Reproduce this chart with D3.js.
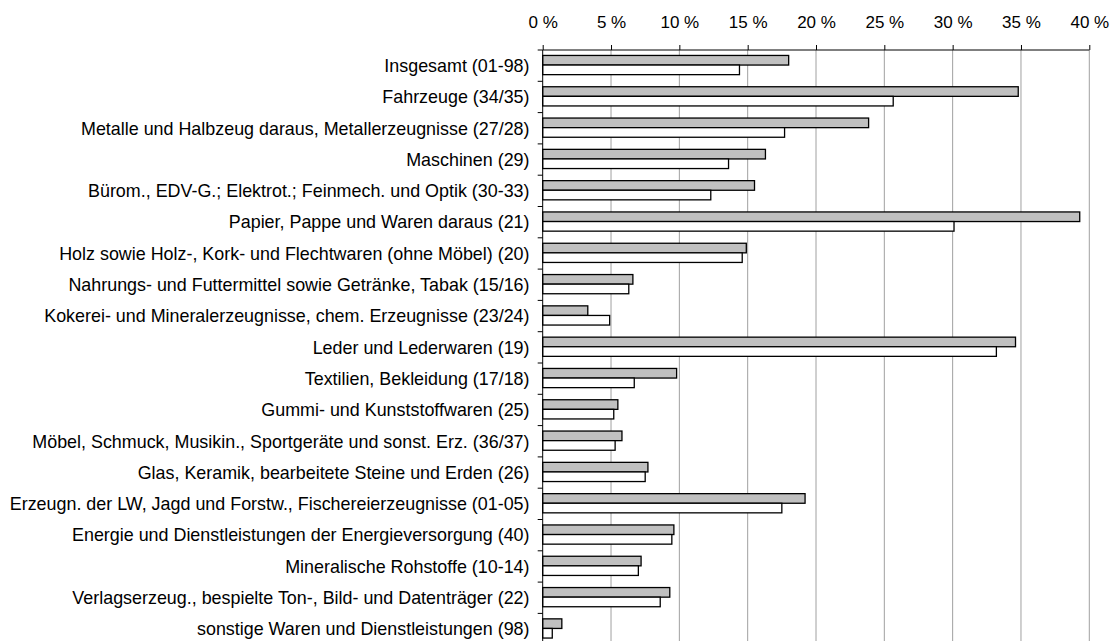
<!DOCTYPE html>
<html><head><meta charset="utf-8">
<script src="https://cdn.jsdelivr.net/npm/d3@7"></script>
<style>body{margin:0;background:#fff}svg{display:block}text{font-family:"Liberation Sans",Arial,sans-serif}</style>
</head><body>
<svg id="c" width="1111" height="641"></svg>
<script>
const categories = [
 "Insgesamt (01-98)",
 "Fahrzeuge (34/35)",
 "Metalle und Halbzeug daraus, Metallerzeugnisse (27/28)",
 "Maschinen (29)",
 "Bürom., EDV-G.; Elektrot.; Feinmech. und Optik (30-33)",
 "Papier, Pappe und Waren daraus (21)",
 "Holz sowie Holz-, Kork- und Flechtwaren (ohne Möbel) (20)",
 "Nahrungs- und Futtermittel sowie Getränke, Tabak (15/16)",
 "Kokerei- und Mineralerzeugnisse, chem. Erzeugnisse (23/24)",
 "Leder und Lederwaren (19)",
 "Textilien, Bekleidung (17/18)",
 "Gummi- und Kunststoffwaren (25)",
 "Möbel, Schmuck, Musikin., Sportgeräte und sonst. Erz. (36/37)",
 "Glas, Keramik, bearbeitete Steine und Erden (26)",
 "Erzeugn. der LW, Jagd und Forstw., Fischereierzeugnisse (01-05)",
 "Energie und Dienstleistungen der Energieversorgung (40)",
 "Mineralische Rohstoffe (10-14)",
 "Verlagserzeug., bespielte Ton-, Bild- und Datenträger (22)",
 "sonstige Waren und Dienstleistungen (98)"
];
const seriesGray  = [18.0, 34.8, 23.85, 16.3, 15.5, 39.3, 14.9, 6.6, 3.3, 34.6, 9.8, 5.5, 5.8, 7.7, 19.2, 9.6, 7.2, 9.3, 1.4];
const seriesWhite = [14.4, 25.65, 17.7, 13.6, 12.3, 30.1, 14.6, 6.3, 4.9, 33.2, 6.7, 5.2, 5.3, 7.5, 17.5, 9.45, 7.0, 8.6, 0.7];
const tickValues = [0, 5, 10, 15, 20, 25, 30, 35, 40];

const svg = d3.select("#c");
const x0 = 542.7, x1 = 1089.3, yTop = 50, band = 31.3;
const x = d3.scaleLinear().domain([0, 40]).range([x0, x1]);
const y = d3.scaleBand().domain(categories).range([yTop, yTop + band * categories.length]).paddingInner(0).paddingOuter(0);
const barH = 9.6;

// gridlines
svg.append("g").selectAll("line").data(tickValues.slice(1)).join("line")
  .attr("x1", d => x(d)).attr("x2", d => x(d))
  .attr("y1", yTop).attr("y2", 641)
  .attr("stroke", "#a0a0a0").attr("stroke-width", 1);

// bars
const g = svg.append("g");
categories.forEach((c, i) => {
  const cy = y(c) + y.bandwidth() / 2 - 0.6;
  g.append("rect").attr("x", x(0)).attr("y", cy - barH)
    .attr("width", x(seriesGray[i]) - x(0)).attr("height", barH)
    .attr("fill", "#c0c0c0").attr("stroke", "#000").attr("stroke-width", 1.3);
  g.append("rect").attr("x", x(0)).attr("y", cy)
    .attr("width", x(seriesWhite[i]) - x(0)).attr("height", barH)
    .attr("fill", "#fff").attr("stroke", "#000").attr("stroke-width", 1.3);
});

// top axis
const ax = svg.append("g").attr("transform", `translate(0,${yTop})`)
  .call(d3.axisTop(x).tickValues(tickValues).tickSize(5).tickPadding(16.7).tickFormat(d => d + " %"));
ax.select(".domain").attr("stroke", "#000").attr("d", `M${x0},0H${x1}`);
ax.selectAll(".tick line").attr("stroke", "#000");
ax.selectAll("text").attr("font-size", 17).attr("fill", "#000").style("font-family", "Liberation Sans, Arial, sans-serif");

// left axis
const ticksY = d3.range(categories.length + 1).map(i => yTop + i * band);
svg.append("line").attr("x1", x0).attr("x2", x0).attr("y1", yTop).attr("y2", 641).attr("stroke", "#000");
svg.append("g").selectAll("line").data(ticksY).join("line")
  .attr("x1", x0 - 5).attr("x2", x0).attr("y1", d => d).attr("y2", d => d).attr("stroke", "#000");
svg.append("g").selectAll("text").data(categories).join("text")
  .attr("x", 529.5).attr("y", d => y(d) + y.bandwidth() / 2)
  .attr("dy", "0.35em").attr("text-anchor", "end")
  .attr("font-size", 17.9).attr("fill", "#000").text(d => d);
</script>
</body></html>
